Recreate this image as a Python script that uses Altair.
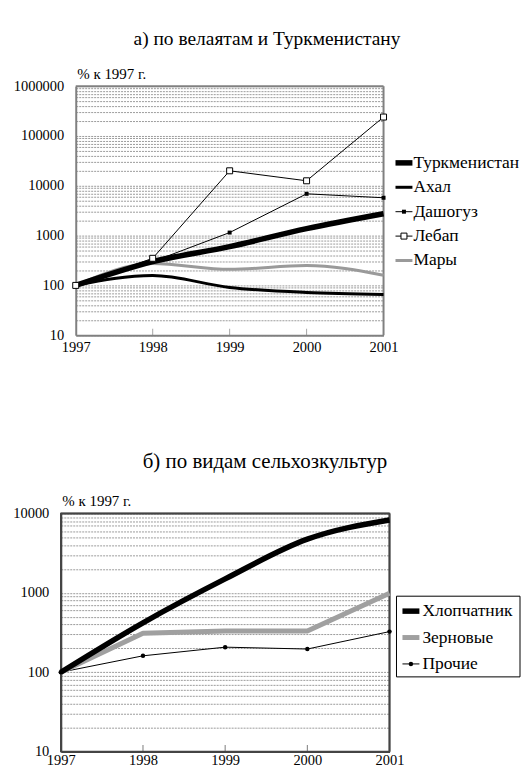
import altair as alt
import pandas as pd

FONT = "Liberation Serif"

years = [1997, 1998, 1999, 2000, 2001]

# Panel a) regions
regions = ["Туркменистан", "Ахал", "Дашогуз", "Лебап", "Мары"]
turkmenistan = [100, 300, 600, 1380, 2750]
ahal = [100, 158, 91, 72, 66]
dashoguz = [100, 300, 1150, 6900, 5750]
lebap = [100, 350, 20000, 12600, 240000]
mary = [100, 275, 210, 250, 160]
region_colors = ["black", "black", "black", "black", "#9a9a9a"]
region_widths = [5.5, 3, 1, 1, 3]

# Panel b) crops
crops = ["Хлопчатник", "Зерновые", "Прочие"]
cotton = [100, 420, 1500, 4750, 8300]
grain = [100, 310, 330, 330, 990]
other = [100, 161, 207, 196, 325]
crop_colors = ["black", "#a0a0a0", "black"]
crop_widths = [5.5, 5, 1]

title_a = "а) по велаятам и Туркменистану"
title_b = "б) по видам сельхозкультур"
y_title = "% к 1997 г."


def long_df(names, series):
    rows = []
    for n, vals in zip(names, series):
        for y, v in zip(years, vals):
            rows.append({"year": y, "value": v, "series": n})
    return pd.DataFrame(rows)


df_a = long_df(regions, [turkmenistan, ahal, dashoguz, lebap, mary])
df_b = long_df(crops, [cotton, grain, other])


def grid_values(lo_exp, hi_exp):
    vals = []
    for d in range(lo_exp, hi_exp):
        for k in range(1, 10):
            vals.append(k * 10 ** d)
    vals.append(10 ** hi_exp)
    return vals


def label_expr(lo_exp, hi_exp):
    majors = ",".join(str(10 ** d) for d in range(lo_exp, hi_exp + 1))
    return f"indexof([{majors}], datum.value) >= 0 ? format(datum.value, 'd') : ''"


def panel(df, names, colors, widths, lo_exp, hi_exp, width, height, xrange,
          yoffset, frame_color, smooth, markers, legend_range, legend_x, text_dx,
          legend_box, title, title_size, title_dx, title_offset, xlabel_pad):
    one = pd.DataFrame({"k": [0]})
    xenc = alt.X("year:Q",
                 scale=alt.Scale(domain=[years[0], years[-1]], range=xrange, nice=False, zero=False),
                 axis=alt.Axis(values=years, format="d", title=None, grid=False, ticks=False,
                               domainColor=frame_color, domainWidth=2,
                               labelFont=FONT, labelFontSize=14.5, labelColor="black",
                               labelPadding=xlabel_pad, labelFlush=False))
    yenc = alt.Y("value:Q",
                 scale=alt.Scale(type="log", domain=[10 ** lo_exp, 10 ** hi_exp], nice=False),
                 axis=alt.Axis(values=grid_values(lo_exp, hi_exp), offset=yoffset,
                               grid=True, gridDash=[2, 1], gridColor="#707070", gridWidth=0.7,
                               ticks=False, domainColor=frame_color, domainWidth=2,
                               labelExpr=label_expr(lo_exp, hi_exp),
                               labelFont=FONT, labelFontSize=14.5, labelColor="black",
                               labelPadding=12,
                               title=y_title, titleAngle=0, titleAlign="left",
                               titleBaseline="bottom", titleX=1, titleY=-5,
                               titleFont=FONT, titleFontSize=15, titleFontWeight="normal",
                               titleColor="black"))

    layers = []
    layers.append(alt.Chart(one).mark_rule(color=frame_color, strokeWidth=2).encode(
        x=alt.datum(years[0]), x2=alt.datum(years[-1]), y=alt.datum(10 ** hi_exp)))
    layers.append(alt.Chart(one).mark_rule(color=frame_color, strokeWidth=2).encode(
        x=alt.datum(years[-1]), y=alt.datum(10 ** lo_exp), y2=alt.datum(10 ** hi_exp)))
    tick_df = pd.DataFrame({"year": years[1:-1]})
    layers.append(alt.Chart(tick_df).mark_tick(orient="vertical", size=7, thickness=1,
                                                color=frame_color, yOffset=-3).encode(
        x=alt.X("year:Q"), y=alt.datum(10 ** lo_exp)))
    for n, c, w in reversed(list(zip(names, colors, widths))):
        sub = df[df.series == n]
        interp = "monotone" if n in smooth else "linear"
        layers.append(alt.Chart(sub).mark_line(interpolate=interp, strokeJoin="round",
                                               color=c, strokeWidth=w).encode(x=xenc, y=yenc))
    for n, spec in markers.items():
        sub = df[df.series == n]
        layers.append(alt.Chart(sub).mark_point(**spec).encode(x=xenc, y=yenc))
    plot = alt.layer(*layers)

    leg_df = pd.DataFrame({"series": names})
    leny = alt.Y("series:N", scale=alt.Scale(type="point", domain=names, range=legend_range,
                                             padding=0),
                 axis=None)
    leg_layers = []
    if legend_box is not None:
        leg_layers.append(alt.Chart(one).mark_rect(fill="white", stroke="black", strokeWidth=1).encode(
            x=alt.value(legend_box[0]), x2=alt.value(legend_box[1]),
            y=alt.value(legend_box[2]), y2=alt.value(legend_box[3])))
    for n, c, w in zip(names, colors, widths):
        leg_layers.append(alt.Chart(leg_df[leg_df.series == n]).mark_rule(
            color=c, strokeWidth=w).encode(
            x=alt.value(legend_x), x2=alt.value(legend_x + 17), y=leny))
    for n, spec in markers.items():
        leg_layers.append(alt.Chart(leg_df[leg_df.series == n]).mark_point(**spec).encode(
            x=alt.value(legend_x + 8.5), y=leny))
    leg_layers.append(alt.Chart(leg_df).mark_text(align="left", baseline="middle", font=FONT,
                                                  fontSize=17.5, color="black").encode(
        x=alt.value(legend_x + text_dx), y=leny, text="series:N"))
    legend = alt.layer(*leg_layers)

    return alt.layer(plot, legend).resolve_scale(y="independent").properties(
        width=width, height=height,
        title=alt.TitleParams(title, anchor="middle", frame="group", dx=title_dx,
                              font=FONT, fontSize=title_size, fontWeight="normal",
                              color="black", offset=title_offset),
    )


top = panel(df_a, regions, region_colors, region_widths, 1, 6, 324, 250, [15, 324], -15,
            "#808080", ["Туркменистан", "Ахал", "Мары"],
            {"Дашогуз": dict(shape="square", filled=True, color="black", size=16, opacity=1),
             "Лебап": dict(shape="square", filled=True, fill="white", stroke="black",
                           strokeWidth=1, size=36, opacity=1)},
            [77, 175], 336, 18, None, title_a, 19.5, 45, 17, 5).properties(
    view=alt.ViewBackground(stroke="transparent"))

bottom = panel(df_b, crops, crop_colors, crop_widths, 1, 4, 330, 239, [0, 330], 0,
               "#444444", ["Хлопчатник"],
               {"Прочие": dict(shape="circle", filled=True, color="black", size=20, opacity=1)},
               [98, 151], 343, 20, (337, 461, 83, 164), title_b, 21, 40, 22, 2).properties(
    view=alt.ViewBackground(stroke="#444444", strokeWidth=1.5))

chart = alt.vconcat(top, bottom, spacing=96).properties(
    padding={"left": 4, "top": 19, "right": 0, "bottom": 0}
)

chart.save("out.html", embed_options={"renderer": "svg", "actions": False})
